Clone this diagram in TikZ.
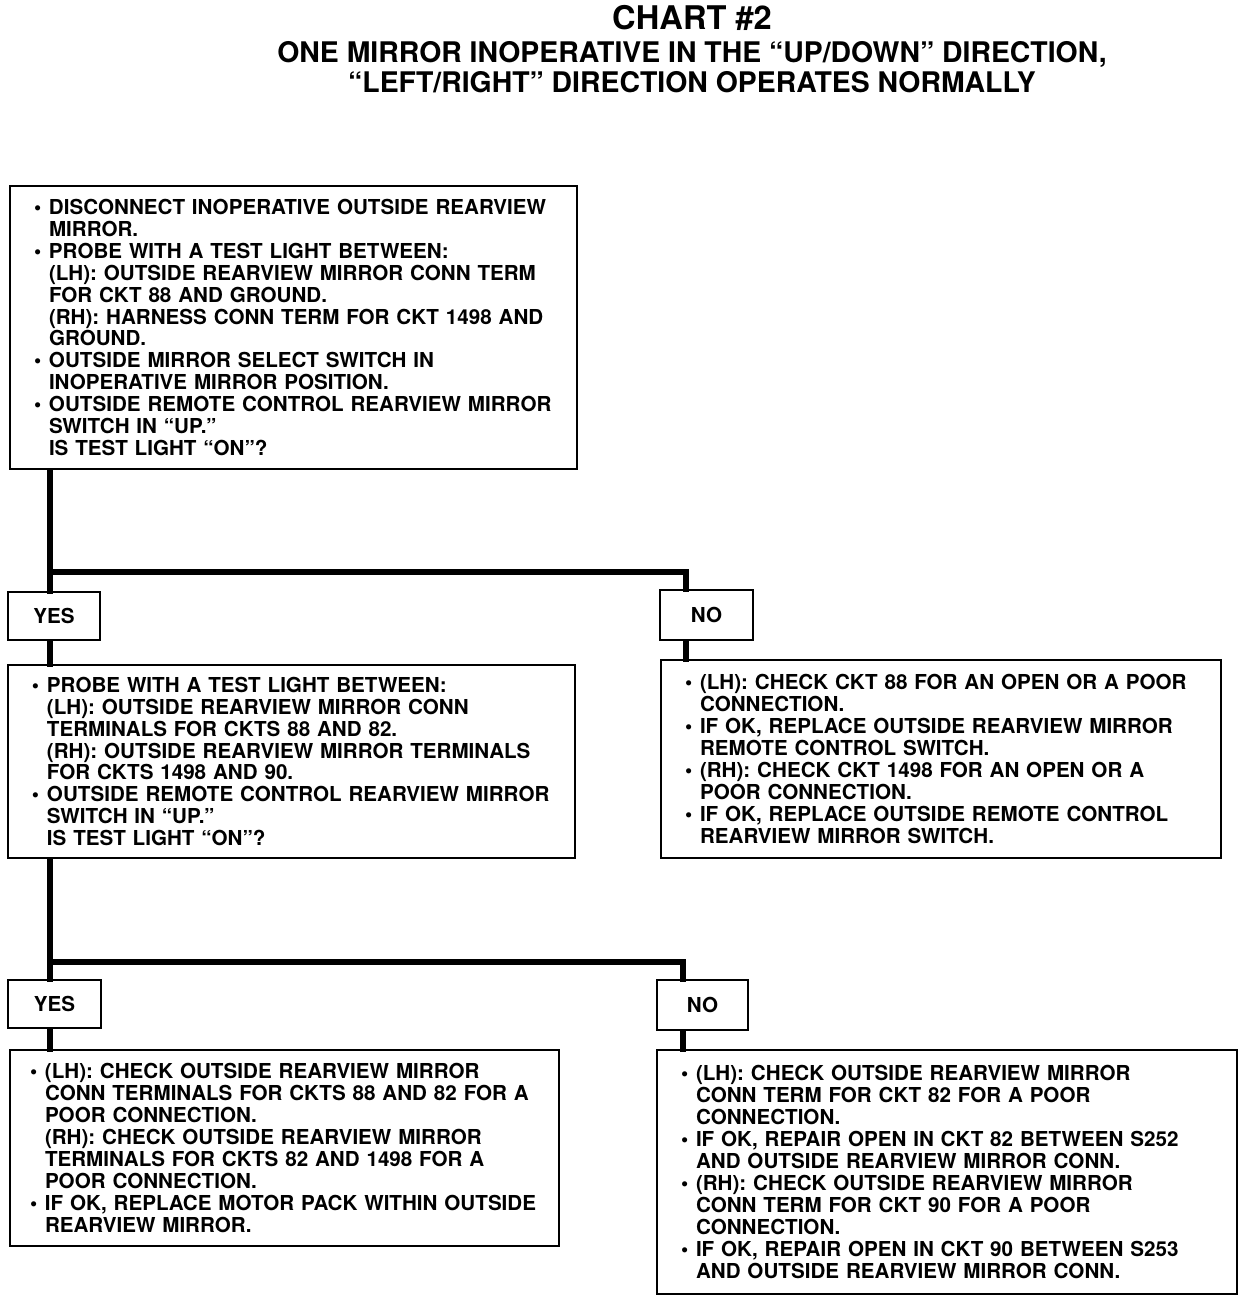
\documentclass[tikz,border=0pt]{standalone}
\usepackage{fontspec}
\setmainfont{TeX Gyre Heros}
\usepackage{tikz}

\newcommand{\bl}{\makebox[7.5pt][l]{•}}
\newcommand{\ind}{\hspace*{7.5pt}}

\tikzset{
  chartbox/.style={draw, line width=1.1pt, inner xsep=12pt, inner ysep=0pt, align=left,
    font=\bfseries\fontsize{10.3}{10.95}\selectfont},
  answer/.style={draw, line width=1.1pt, inner sep=0pt, align=center,
    font=\bfseries\fontsize{10.3}{10.95}\selectfont},
  link/.style={line width=2.6pt, line cap=rect, line join=miter}
}

\begin{document}
\begin{tikzpicture}[x=0.5pt, y=-0.5pt]
    \useasboundingbox (0,0) rectangle (1248,1304);
    % heading
    \node[font=\bfseries\fontsize{16.3}{18}\selectfont] (title) at (692,18) {CHART \#2};
    \node[font=\bfseries\fontsize{14.2}{15}\selectfont, align=center] (subtitle) at (692,67)
        {ONE MIRROR INOPERATIVE IN THE “UP/DOWN” DIRECTION,\\
         “LEFT/RIGHT” DIRECTION OPERATES NORMALLY};
    % first test
    \node[chartbox, text width=259.5pt, minimum height=141.5pt] (box1) at (293.5,327.5) {%
        \bl DISCONNECT INOPERATIVE OUTSIDE REARVIEW\\
        \ind MIRROR.\\
        \bl PROBE WITH A TEST LIGHT BETWEEN:\\
        \ind (LH): OUTSIDE REARVIEW MIRROR CONN TERM\\
        \ind FOR CKT 88 AND GROUND.\\
        \ind (RH): HARNESS CONN TERM FOR CKT 1498 AND\\
        \ind GROUND.\\
        \bl OUTSIDE MIRROR SELECT SWITCH IN\\
        \ind INOPERATIVE MIRROR POSITION.\\
        \bl OUTSIDE REMOTE CONTROL REARVIEW MIRROR\\
        \ind SWITCH IN “UP.”\\
        \ind IS TEST LIGHT “ON”?};
    \node[answer, minimum width=46pt, minimum height=24pt] (yes1) at (54,616) {YES};
    \node[answer, minimum width=46.5pt, minimum height=25pt] (no1) at (706.5,615) {NO};
    % second test
    \node[chartbox, text width=259.5pt, minimum height=96.5pt] (box2) at (291.5,761.5) {%
        \bl PROBE WITH A TEST LIGHT BETWEEN:\\
        \ind (LH): OUTSIDE REARVIEW MIRROR CONN\\
        \ind TERMINALS FOR CKTS 88 AND 82.\\
        \ind (RH): OUTSIDE REARVIEW MIRROR TERMINALS\\
        \ind FOR CKTS 1498 AND 90.\\
        \bl OUTSIDE REMOTE CONTROL REARVIEW MIRROR\\
        \ind SWITCH IN “UP.”\\
        \ind IS TEST LIGHT “ON”?};
    \node[chartbox, text width=256pt, minimum height=99pt] (box3) at (941,759) {%
        \bl (LH): CHECK CKT 88 FOR AN OPEN OR A POOR\\
        \ind CONNECTION.\\
        \bl IF OK, REPLACE OUTSIDE REARVIEW MIRROR\\
        \ind REMOTE CONTROL SWITCH.\\
        \bl (RH): CHECK CKT 1498 FOR AN OPEN OR A\\
        \ind POOR CONNECTION.\\
        \bl IF OK, REPLACE OUTSIDE REMOTE CONTROL\\
        \ind REARVIEW MIRROR SWITCH.};
    \node[answer, minimum width=46.5pt, minimum height=24pt] (yes2) at (54.5,1004) {YES};
    \node[answer, minimum width=45.5pt, minimum height=25pt] (no2) at (702.5,1005) {NO};
    % repairs
    \node[chartbox, inner xsep=10pt, text width=254.5pt, minimum height=98pt] (box4) at (284.5,1148) {%
        \bl (LH): CHECK OUTSIDE REARVIEW MIRROR\\
        \ind CONN TERMINALS FOR CKTS 88 AND 82 FOR A\\
        \ind POOR CONNECTION.\\
        \ind (RH): CHECK OUTSIDE REARVIEW MIRROR\\
        \ind TERMINALS FOR CKTS 82 AND 1498 FOR A\\
        \ind POOR CONNECTION.\\
        \bl IF OK, REPLACE MOTOR PACK WITHIN OUTSIDE\\
        \ind REARVIEW MIRROR.};
    \node[chartbox, text width=266pt, minimum height=122pt] (box5) at (947,1172) {%
        \bl (LH): CHECK OUTSIDE REARVIEW MIRROR\\
        \ind CONN TERM FOR CKT 82 FOR A POOR\\
        \ind CONNECTION.\\
        \bl IF OK, REPAIR OPEN IN CKT 82 BETWEEN S252\\
        \ind AND OUTSIDE REARVIEW MIRROR CONN.\\
        \bl (RH): CHECK OUTSIDE REARVIEW MIRROR\\
        \ind CONN TERM FOR CKT 90 FOR A POOR\\
        \ind CONNECTION.\\
        \bl IF OK, REPAIR OPEN IN CKT 90 BETWEEN S253\\
        \ind AND OUTSIDE REARVIEW MIRROR CONN.};
    % connectors
    \coordinate (j1) at (50,572);
    \coordinate (k1) at (686,572);
    \coordinate (j2) at (50,962);
    \coordinate (k2) at (683,962);
    \draw[link] (box1.south -| j1) -- (yes1.north -| j1);
    \draw[link] (j1) -- (k1) -- (no1.north -| k1);
    \draw[link] (yes1.south -| j1) -- (box2.north -| j1);
    \draw[link] (no1.south -| k1) -- (box3.north -| k1);
    \draw[link] (box2.south -| j2) -- (yes2.north -| j2);
    \draw[link] (j2) -- (k2) -- (no2.north -| k2);
    \draw[link] (yes2.south -| j2) -- (box4.north -| j2);
    \draw[link] (no2.south -| k2) -- (box5.north -| k2);
\end{tikzpicture}
\end{document}
